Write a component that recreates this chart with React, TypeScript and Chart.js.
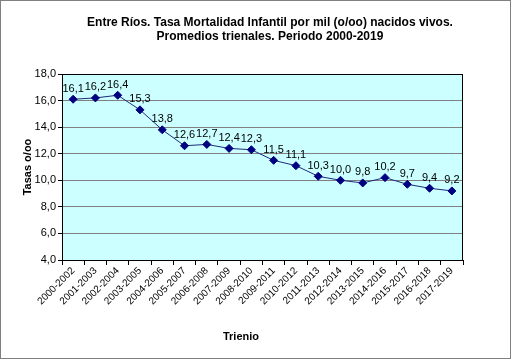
import React, { useEffect, useRef } from "react";
import { Chart, registerables } from "chart.js";

Chart.register(...registerables);

const categories = [
  "2000-2002", "2001-2003", "2002-2004", "2003-2005", "2004-2006", "2005-2007",
  "2006-2008", "2007-2009", "2008-2010", "2009-2011", "2010-2012", "2011-2013",
  "2012-2014", "2013-2015", "2014-2016", "2015-2017", "2016-2018", "2017-2019",
];
const rates = [16.1, 16.2, 16.4, 15.3, 13.8, 12.6, 12.7, 12.4, 12.3, 11.5, 11.1, 10.3, 10.0, 9.8, 10.2, 9.7, 9.4, 9.2];
const titleLines = [
  "Entre Ríos. Tasa Mortalidad Infantil por mil (o/oo) nacidos vivos.",
  "Promedios trienales. Periodo 2000-2019",
];
const yTitle = "Tasas o/oo";
const xTitle = "Trienio";

const FONT = "'Liberation Sans', Arial, sans-serif";
const fmt = (v: number) => v.toFixed(1).replace(".", ",");

const decor = {
  id: "decor",
  beforeDraw(chart: any) {
    const { ctx, chartArea: a } = chart;
    ctx.save();
    ctx.fillStyle = "#ffffff";
    ctx.fillRect(0, 0, chart.width, chart.height);
    ctx.fillStyle = "#CCFFFF";
    ctx.fillRect(a.left, a.top, a.right - a.left, a.bottom - a.top);
    ctx.restore();
  },
  afterDraw(chart: any) {
    const { ctx, chartArea: a } = chart;
    ctx.save();
    ctx.strokeStyle = "#000000";
    ctx.lineWidth = 1;
    ctx.strokeRect(a.left + 0.5, a.top + 0.5, a.right - a.left - 1, a.bottom - a.top);
    // outer border
    ctx.strokeStyle = "#808080";
    ctx.strokeRect(0.5, 0.5, chart.width - 1, chart.height - 2);
    // title
    ctx.fillStyle = "#000000";
    ctx.textAlign = "center";
    ctx.textBaseline = "middle";
    ctx.font = `bold 12px ${FONT}`;
    ctx.fillText(titleLines[0], 270, 23);
    ctx.fillText(titleLines[1], 270, 37);
    // axis titles
    ctx.font = `bold 11px ${FONT}`;
    ctx.fillText(xTitle, 241, 337);
    ctx.save();
    ctx.translate(28, 167);
    ctx.rotate(-Math.PI / 2);
    ctx.fillText(yTitle, 0, 0);
    ctx.restore();
    // data labels
    const meta = chart.getDatasetMeta(0);
    ctx.font = `11px ${FONT}`;
    ctx.textBaseline = "bottom";
    meta.data.forEach((pt: any, i: number) => {
      ctx.fillText(fmt(rates[i]), pt.x, pt.y - 5);
    });
    ctx.restore();
  },
};

export default function App() {
  const ref = useRef<HTMLCanvasElement>(null);
  useEffect(() => {
    document.body.style.margin = "0";
    const chart = new Chart(ref.current!, {
      type: "line",
      data: {
        labels: categories,
        datasets: [
          {
            data: rates,
            borderColor: "#1F2A7A",
            borderWidth: 1,
            pointStyle: "rectRot",
            pointRadius: 4,
            pointBackgroundColor: "#000080",
            pointBorderColor: "#000080",
            tension: 0,
          },
        ],
      },
      options: {
        responsive: false,
        animation: false,
        layout: { padding: { left: 0, right: 48, top: 74, bottom: 0 } },
        plugins: { legend: { display: false }, title: { display: false }, tooltip: { enabled: false } },
        scales: {
          x: {
            offset: true,
            grid: { offset: true, drawOnChartArea: false, drawTicks: true, tickLength: 5, color: "#000000", tickColor: "#000000" },
            border: { display: false },
            ticks: {
              minRotation: 45,
              maxRotation: 45,
              autoSkip: false,
              padding: 0,
              color: "#000000",
              font: { family: FONT, size: 10 },
            },
            afterFit: (s: any) => { s.height = 100; },
          },
          y: {
            min: 4,
            max: 18,
            grid: { color: "#808080", tickColor: "#000000", tickLength: 4, drawTicks: true },
            border: { display: false },
            ticks: {
              stepSize: 2,
              padding: 2,
              color: "#000000",
              font: { family: FONT, size: 11 },
              callback: (v: any) => fmt(Number(v)),
            },
            afterFit: (s: any) => { s.width = 62; },
          },
        },
      },
      plugins: [decor],
    });
    return () => chart.destroy();
  }, []);
  return (
    <div style={{ position: "absolute", left: 0, top: 0, width: 511, height: 360 }}>
      <canvas ref={ref} width={511} height={360} />
    </div>
  );
}
